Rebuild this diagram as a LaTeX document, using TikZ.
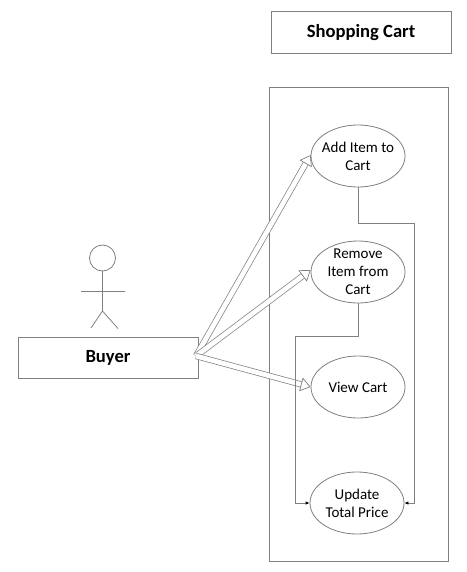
\documentclass[tikz,border=0pt]{standalone}
\usepackage{fontspec}
\setmainfont{Carlito}
\usetikzlibrary{arrows.meta,shapes.geometric,calc}
\definecolor{ln}{gray}{0.5}
\tikzset{
  box/.style={draw=ln,line width=0.9pt,rectangle,inner sep=0pt,minimum width=#1,minimum height=41.5pt,font=\fontsize{18.6}{22}\selectfont\bfseries},
  usecase/.style={draw=ln,line width=0.8pt,ellipse,inner sep=-9pt,minimum width=94pt,minimum height=62pt,align=center,font=\fontsize{15}{18}\selectfont},
  hollow/.style={draw=ln,line width=0.7pt,double=white,double distance=4.8pt,-{Triangle[open,fill=white,length=10pt,width=14pt]}},
  elbow/.style={draw=ln,line width=0.8pt,-{Latex[length=4pt,width=3.5pt,black]}},
  figure/.style={draw=ln,line width=0.8pt}
}
\begin{document}
\begin{tikzpicture}[x=1pt,y=-1pt]
\useasboundingbox[fill=white] (0,0) rectangle (466,572);
\node[box=180pt] (title) at (361,32.5) {Shopping Cart};
\node[draw=ln,line width=0.9pt,rectangle,inner sep=0pt,minimum width=179pt,minimum height=474pt] (system) at (358.5,324) {};
\node[box=180pt] (buyer) at (108,358) {Buyer};
\node[usecase] (add) at (358,156) {Add Item to\\Cart};
\node[usecase] (remove) at (358,272) {Remove\\Item from\\Cart};
\node[usecase] (view) at (358,387) {View Cart};
\node[usecase] (update) at (357,503) {Update\\Total Price};
\coordinate (src) at (196,356);
\draw[hollow] (src) -- (add.west |- 0,155);
\draw[hollow] (src) -- (remove.west |- 0,270);
\draw[hollow] (src) -- (view.west);
\draw[elbow] (add.south) -- (358,223) -- (414,223) |- (update.east);
\draw[elbow] (remove.south) -- (358,336) -- (295,336) |- (update.west);
\draw[figure] (102.5,258) circle (13);
\draw[figure] (102.5,271) -- (102.5,311);
\draw[figure] (81,291.5) -- (125,291.5);
\draw[figure] (91,328) -- (102.5,311) -- (118,328.5);
\end{tikzpicture}
\end{document}
